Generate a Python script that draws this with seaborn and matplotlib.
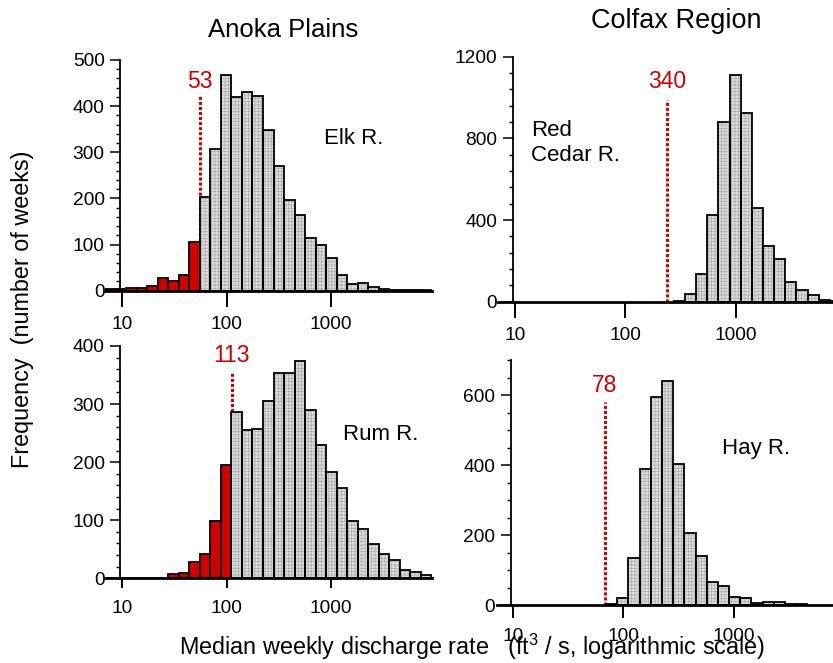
import numpy as np
import pandas as pd
import matplotlib
matplotlib.use("Agg")
import matplotlib.pyplot as plt
import seaborn as sns
from matplotlib.ticker import FixedLocator, NullLocator, MultipleLocator

sns.set_theme(style="white")
plt.rcParams["font.family"] = ["Liberation Sans", "DejaVu Sans"]
plt.rcParams["mathtext.fontset"] = "custom"
plt.rcParams["mathtext.rm"] = "Liberation Sans"
plt.rcParams["hatch.linewidth"] = 0.35
plt.rcParams["text.color"] = "black"

# ---------------- data (log10 bins of width ~0.1 decade) ----------------
BIN_W = 0.101
rivers = ["Elk R.", "Rum R.", "Red\nCedar R.", "Hay R."]
regions = ["Anoka Plains", "Colfax Region"]
thresholds = [53, 113, 340, 78]            # labelled values
threshold_line = [56, 112, 240, 68]        # where the dotted line is drawn
bin_start = [0.835, 0.835, 2.441, 1.843]   # log10 of first bin edge

elk_counts = [3, 4, 5, 6, 11, 28, 21, 34, 105,
              204, 308, 467, 420, 430, 422, 348, 270, 196, 163, 114, 100,
              70, 33, 15, 17, 9, 4, 2, 1, 1, 1]
elk_n_low = 9
rum_counts = [0, 0, 0, 0, 0, 0, 7, 9, 28, 42, 99, 195,
              286, 255, 257, 306, 353, 353, 375, 289, 229, 183, 156, 98, 85,
              59, 42, 32, 14, 10, 6]
rum_n_low = 12
redcedar_counts = [4, 38, 134, 424, 878, 1110, 922, 460, 273, 207, 98, 57, 31, 10, 5]
redcedar_n_low = 0
hay_counts = [3, 21, 133, 390, 595, 639, 402, 205, 140, 67, 54, 24, 21, 5, 10, 9, 4, 3]
hay_n_low = 0

counts = [elk_counts, rum_counts, redcedar_counts, hay_counts]
n_low = [elk_n_low, rum_n_low, redcedar_n_low, hay_n_low]
y_max = [500, 400, 1200, 700]
y_major = [100, 100, 400, 200]
y_minor = [20, 20, 80, 50]
x_ticks = [10, 100, 1000]
x_ticklabels = ["10", "100", "1000"]

# ---------------- layout ----------------
W, H = 833, 663
fig = plt.figure(figsize=(W / 100, H / 100), dpi=100)


def px_axes(left, right, top, bottom):
    return fig.add_axes([left / W, 1 - bottom / H, (right - left) / W, (bottom - top) / H])


axes_px = [(105, 432, 60, 290.7), (105, 432, 346, 578.3),
           (498.3, 845.9, 56.7, 301.7), (496.7, 844.9, 360, 605)]
xlims = [(0.834, 3.972), (0.834, 3.972), (0.849, 4.0), (0.855, 4.0)]
tick_len = [11.5, 7.2, 11.5, 9.4]
tick_pad = [6.5, 8.5, 6.5, 7.5]
line_top = [424, 356, 988, 581]
label_y = [453, 383, 1077, 628]
river_xy = [(869, 330), (1321, 247), (13.9, 777), (773, 448)]

RED = "#d10000"
GREY = "#dadada"
HATCH = "#a0a0a0"
TXT = 13.8

for i in range(4):
    ax = px_axes(*axes_px[i])
    c = np.asarray(counts[i], dtype=float)
    edges = bin_start[i] + BIN_W * np.arange(len(c) + 1)
    bins = [float(e) for e in edges]
    centers = 10 ** (edges[:-1] + BIN_W / 2)
    grp = np.where(np.arange(len(c)) < n_low[i], "low", "high")
    df = pd.DataFrame({"q": centers, "n": c, "grp": grp})
    low = df[df.grp == "low"]
    high = df[df.grp == "high"]

    # dotted threshold line (beneath bars)
    ax.plot([threshold_line[i], threshold_line[i]], [0, line_top[i]], color=RED,
            lw=2.2, linestyle=(0, (1.0, 0.65)), solid_capstyle="butt",
            dash_capstyle="butt", zorder=0.5)

    # grey textured fill
    sns.histplot(data=high, x="q", weights="n", bins=bins, log_scale=True, ax=ax,
                 color=GREY, alpha=1, edgecolor=HATCH, linewidth=0, hatch="+++++",
                 zorder=1)
    # black outline of grey bars
    sns.histplot(data=high, x="q", weights="n", bins=bins, log_scale=True, ax=ax,
                 fill=False, alpha=1, color="black", edgecolor="black",
                 linewidth=1.3, zorder=1.2)
    if len(low):
        sns.histplot(data=low, x="q", weights="n", bins=bins, log_scale=True, ax=ax,
                     color=RED, alpha=1, edgecolor="black", linewidth=1.3, zorder=1.2)

    ax.set_xscale("log")
    ax.set_xlim(10 ** xlims[i][0], 10 ** xlims[i][1])
    ax.set_ylim(0, y_max[i])
    ax.set_xlabel("")
    ax.set_ylabel("")
    ax.set_facecolor("none")
    ax.grid(False)

    for s in ["top", "right"]:
        ax.spines[s].set_visible(False)
    ax.spines["left"].set_position(("data", 9.55))
    ax.spines["left"].set_linewidth(1.3)
    ax.spines["left"].set_color("black")
    ax.spines["bottom"].set_linewidth(2.0)
    ax.spines["bottom"].set_color("black")
    ax.spines["bottom"].set_zorder(3)

    ax.xaxis.set_major_locator(FixedLocator(x_ticks))
    ax.set_xticklabels(x_ticklabels)
    ax.xaxis.set_minor_locator(NullLocator())
    ax.yaxis.set_major_locator(MultipleLocator(y_major[i]))
    ax.yaxis.set_minor_locator(MultipleLocator(y_minor[i]))
    ax.tick_params(axis="x", which="major", direction="out", length=tick_len[i],
                   width=1.4, pad=tick_pad[i], labelsize=TXT, colors="black", bottom=True)
    ax.tick_params(axis="y", which="major", direction="out", length=7.2,
                   width=1.1, pad=4, labelsize=TXT, colors="black", left=True)
    ax.tick_params(axis="y", which="minor", direction="out", length=3,
                   width=1.0, colors="black", left=True)

    ax.text(threshold_line[i], label_y[i], str(thresholds[i]), color=RED,
            fontsize=16.5, ha="center", va="center")
    ax.text(river_xy[i][0], river_xy[i][1], rivers[i], color="black",
            fontsize=16, ha="left", va="center", linespacing=1.2)

fig.text(283 / W, 1 - 36.7 / H, regions[0], fontsize=18.5, ha="center", va="baseline")
fig.text(676 / W, 1 - 28.3 / H, regions[1], fontsize=19.5, ha="center", va="baseline")
fig.text(23 / W, 1 - 309 / H, "Frequency  (number of weeks)", fontsize=16.8,
         rotation=90, ha="center", va="center")
fig.text(472 / W, 1 - 655 / H,
         "Median weekly discharge rate   (ft$^{3}$ / s, logarithmic scale)",
         fontsize=16.8, ha="center", va="baseline")

fig.savefig("out.png", dpi=100)
